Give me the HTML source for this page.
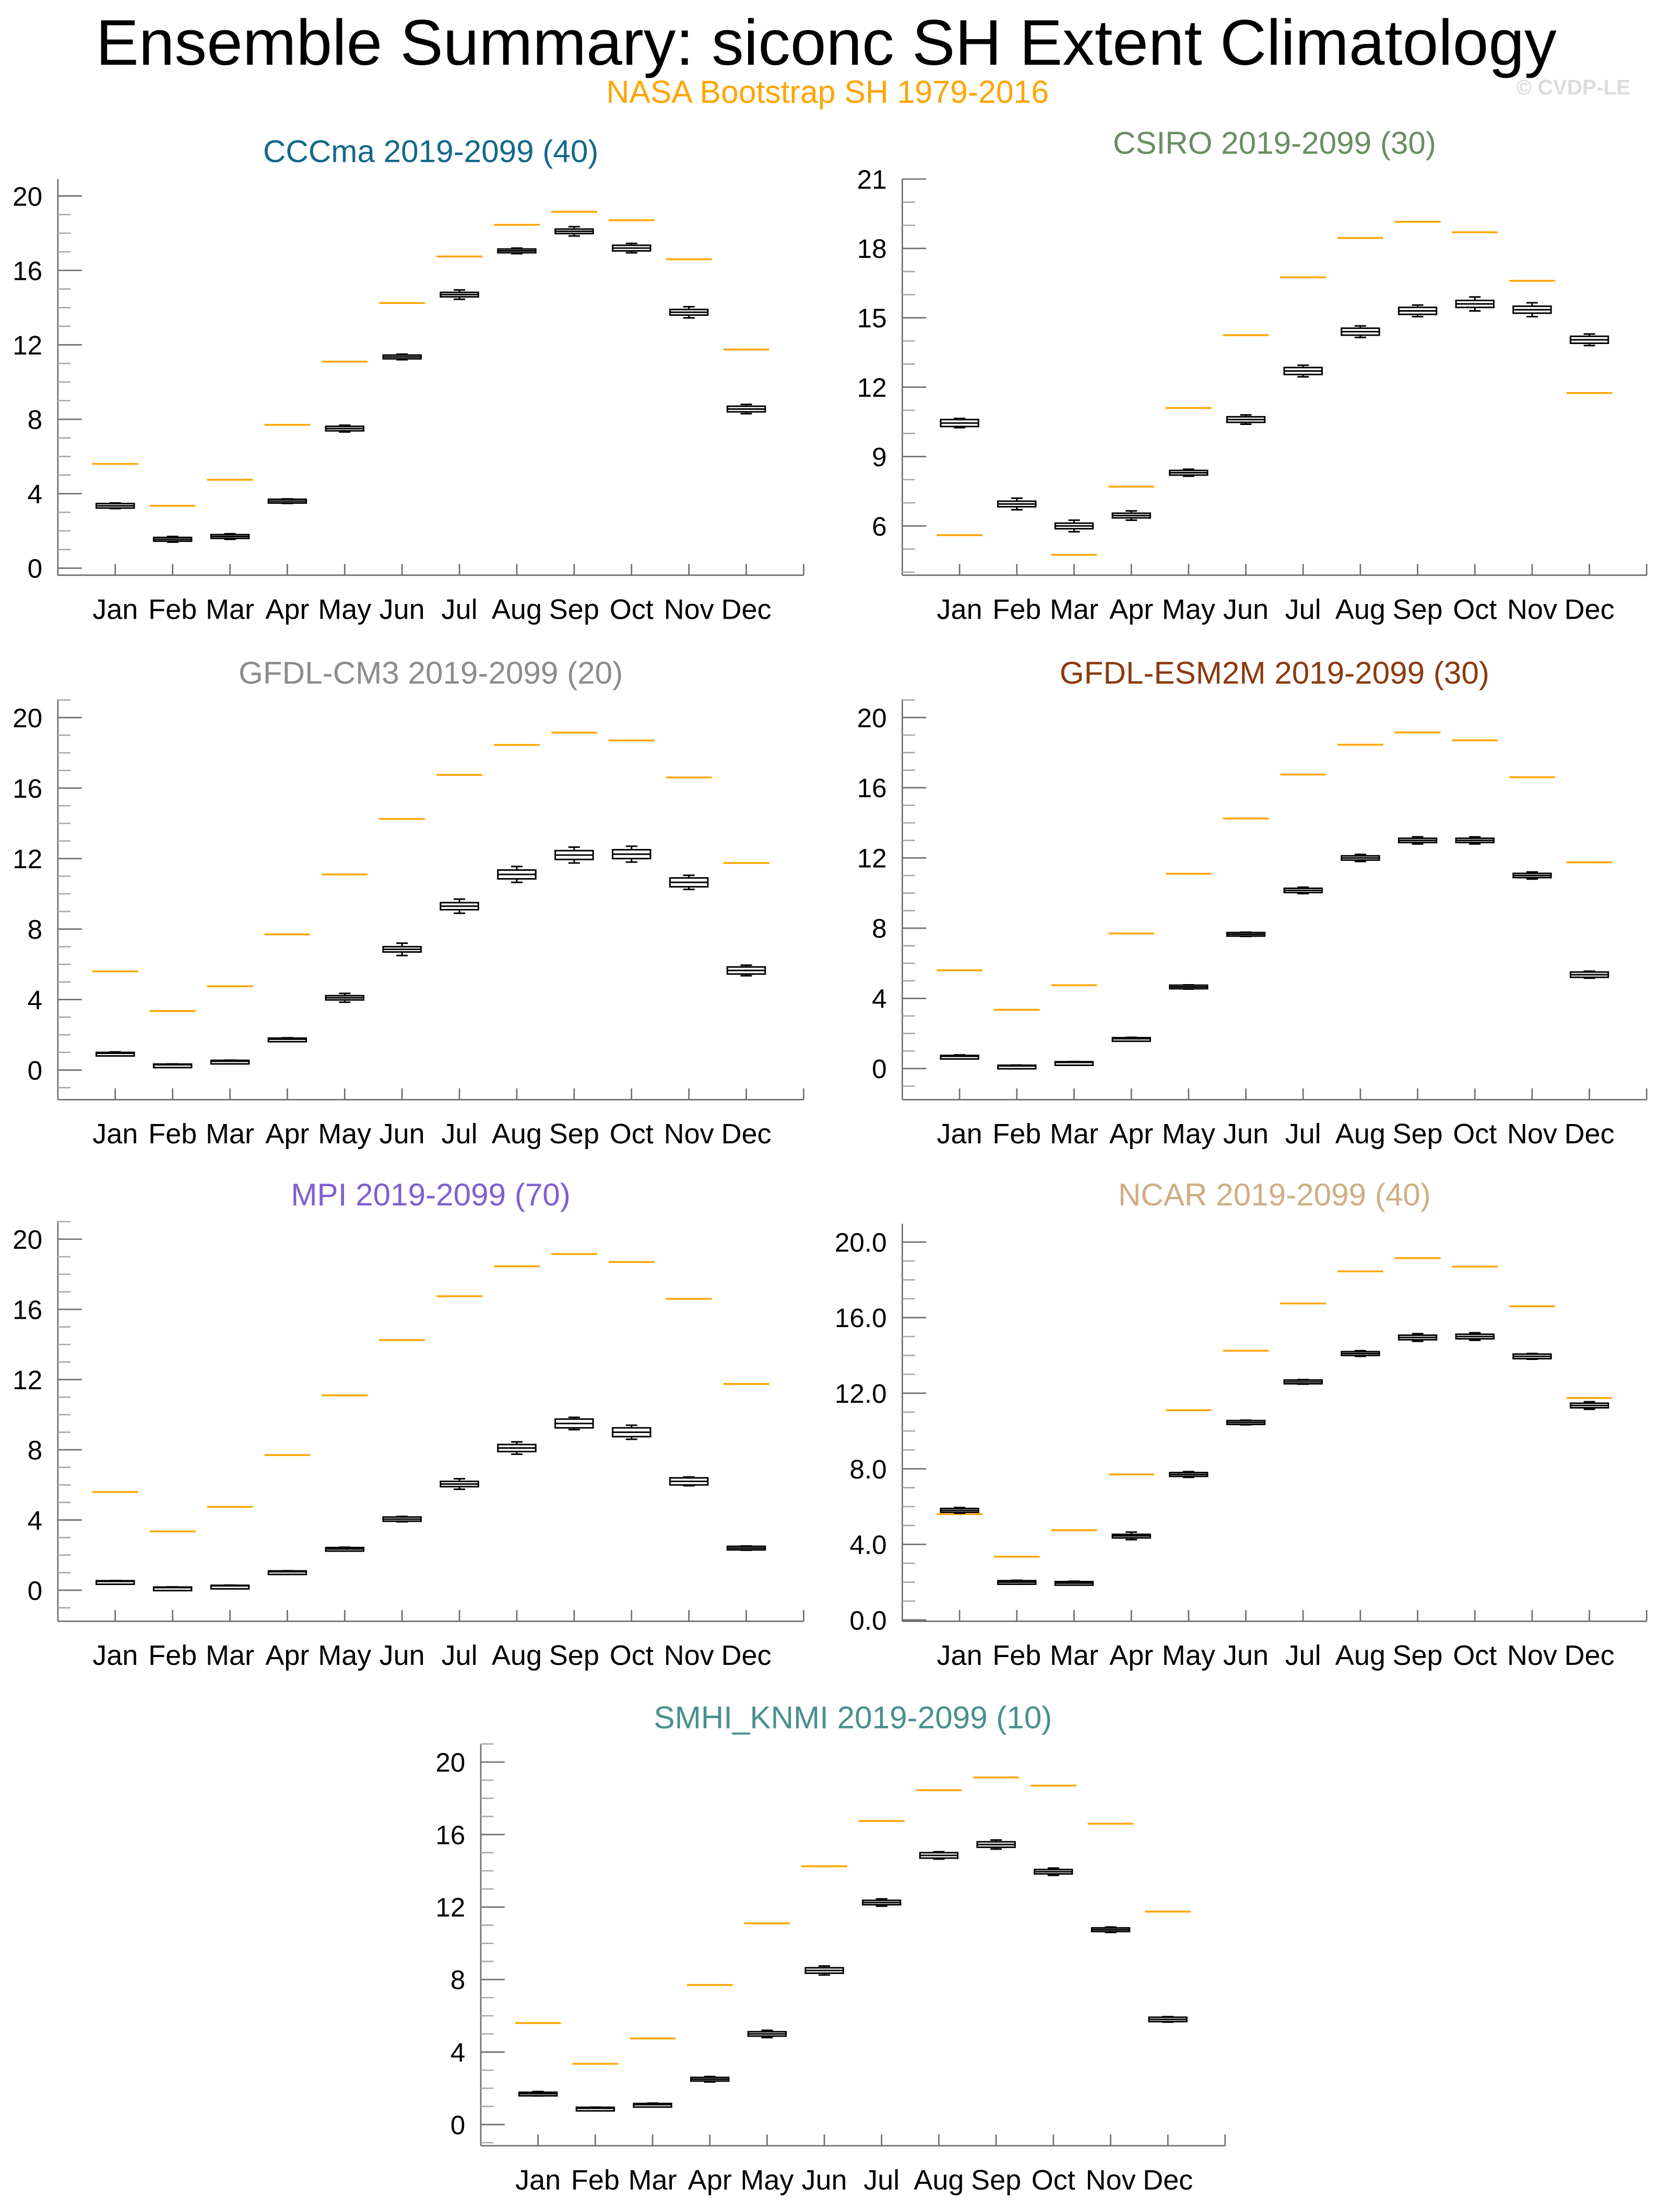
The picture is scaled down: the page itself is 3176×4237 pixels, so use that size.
<!DOCTYPE html>
<html><head><meta charset="utf-8"><style>
html,body{margin:0;padding:0;background:#fff;}
svg{display:block;}
</style></head><body>
<svg id="fig" width="3176" height="4237" viewBox="0 0 1176 1569" xmlns="http://www.w3.org/2000/svg" font-family="Liberation Sans, sans-serif">
<rect x="0" y="0" width="1176" height="1569" fill="#fff"/>
<text x="586" y="46" font-size="45.7" text-anchor="middle" fill="#000">Ensemble Summary: siconc SH Extent Climatology</text>
<text x="587" y="73" font-size="22.5" text-anchor="middle" fill="#ffa500">NASA Bootstrap SH 1979-2016</text>
<text x="1116" y="67" font-size="15" font-weight="bold" text-anchor="middle" fill="#dcdcdc">© CVDP-LE</text>
<g id="panels"></g>
</svg>
<script>
const months = ["Jan","Feb","Mar","Apr","May","Jun","Jul","Aug","Sep","Oct","Nov","Dec"];
const obsValues = [5.6,3.35,4.75,7.7,11.1,14.25,16.75,18.45,19.15,18.7,16.6,11.75];

const cccmaMed = [3.35,1.55,1.7,3.6,7.5,11.35,14.7,17.05,18.1,17.2,13.75,8.55];
const cccmaBox = [0.12,0.1,0.1,0.1,0.12,0.1,0.12,0.1,0.12,0.15,0.15,0.15];
const cccmaWhisk = [0.15,0.15,0.15,0.12,0.18,0.15,0.25,0.15,0.25,0.25,0.3,0.25];

const csiroMed = [10.45,6.95,6.0,6.45,8.3,10.6,12.7,14.4,15.3,15.6,15.35,14.05];
const csiroBox = [0.15,0.12,0.12,0.1,0.1,0.12,0.15,0.15,0.15,0.15,0.15,0.15];
const csiroWhisk = [0.2,0.25,0.25,0.2,0.15,0.2,0.25,0.25,0.25,0.3,0.3,0.25];

const cm3Med = [0.95,0.3,0.5,1.75,4.1,6.85,9.3,11.1,12.2,12.25,10.65,5.65];
const cm3Box = [0.05,0.04,0.05,0.06,0.12,0.15,0.2,0.25,0.25,0.25,0.25,0.2];
const cm3Whisk = [0.08,0.05,0.06,0.08,0.25,0.35,0.4,0.45,0.45,0.45,0.4,0.3];

const esm2mMed = [0.7,0.15,0.35,1.7,4.65,7.65,10.15,12.0,13.0,13.0,11.0,5.35];
const esm2mBox = [0.05,0.04,0.04,0.06,0.1,0.1,0.12,0.12,0.12,0.12,0.12,0.15];
const esm2mWhisk = [0.08,0.05,0.05,0.08,0.12,0.12,0.18,0.2,0.2,0.2,0.2,0.2];

const mpiMed = [0.5,0.15,0.25,1.05,2.35,4.05,6.05,8.1,9.5,9.0,6.2,2.4];
const mpiBox = [0.04,0.03,0.03,0.05,0.08,0.12,0.15,0.2,0.25,0.25,0.2,0.1];
const mpiWhisk = [0.05,0.04,0.04,0.06,0.1,0.15,0.3,0.35,0.35,0.4,0.25,0.12];

const ncarMed = [5.8,2.0,1.95,4.45,7.7,10.45,12.6,14.1,14.95,15.0,13.95,11.35];
const ncarBox = [0.1,0.08,0.08,0.08,0.1,0.1,0.1,0.1,0.12,0.12,0.12,0.12];
const ncarWhisk = [0.15,0.1,0.1,0.2,0.15,0.12,0.12,0.15,0.2,0.2,0.15,0.2];

const smhiMed = [1.7,0.9,1.1,2.5,5.0,8.5,12.25,14.85,15.45,13.95,10.75,5.8];
const smhiBox = [0.08,0.05,0.06,0.1,0.12,0.15,0.12,0.15,0.15,0.12,0.1,0.12];
const smhiWhisk = [0.12,0.06,0.08,0.15,0.2,0.25,0.2,0.2,0.25,0.2,0.15,0.15];

const yTicks1 = [0,4,8,12,16,20];
const yTicks2 = [6,9,12,15,18,21];
const yTickLabels1 = ["0","4","8","12","16","20"];
const yTickLabels2 = ["6","9","12","15","18","21"];
const yTickLabelsNcar = ["0.0","4.0","8.0","12.0","16.0","20.0"];

const panels = [
 {name:"cccma", title:"CCCma 2019-2099 (40)", color:"#13688a", x0:41, x1:570, yTop:127, yBot:408, vTop:20.91, vBot:-0.38, titleY:115, med:cccmaMed, box:cccmaBox, wh:cccmaWhisk, ticks:yTicks1, labels:yTickLabels1, minorStep:1},
 {name:"csiro", title:"CSIRO 2019-2099 (30)", color:"#6a8e62", x0:640, x1:1168, yTop:127, yBot:408, vTop:21, vBot:3.87, titleY:109, med:csiroMed, box:csiroBox, wh:csiroWhisk, ticks:yTicks2, labels:yTickLabels2, minorStep:1},
 {name:"gfdl-cm3", title:"GFDL-CM3 2019-2099 (20)", color:"#8c8c8c", x0:41, x1:570, yTop:496, yBot:780, vTop:21.04, vBot:-1.68, titleY:485, med:cm3Med, box:cm3Box, wh:cm3Whisk, ticks:yTicks1, labels:yTickLabels1, minorStep:1},
 {name:"gfdl-esm2m", title:"GFDL-ESM2M 2019-2099 (30)", color:"#8b3a10", x0:640, x1:1168, yTop:496, yBot:780, vTop:21.04, vBot:-1.77, titleY:485, med:esm2mMed, box:esm2mBox, wh:esm2mWhisk, ticks:yTicks1, labels:yTickLabels1, minorStep:1},
 {name:"mpi", title:"MPI 2019-2099 (70)", color:"#7f5fd3", x0:41, x1:570, yTop:866, yBot:1150, vTop:21.04, vBot:-1.77, titleY:855, med:mpiMed, box:mpiBox, wh:mpiWhisk, ticks:yTicks1, labels:yTickLabels1, minorStep:1},
 {name:"ncar", title:"NCAR 2019-2099 (40)", color:"#cfae85", x0:640, x1:1168, yTop:868, yBot:1150, vTop:20.97, vBot:-0.07, titleY:855, med:ncarMed, box:ncarBox, wh:ncarWhisk, ticks:yTicks1, labels:yTickLabelsNcar, minorStep:1},
 {name:"smhi-knmi", title:"SMHI_KNMI 2019-2099 (10)", color:"#4a8f8f", x0:341, x1:869, yTop:1237, yBot:1522, vTop:21.0, vBot:-1.17, titleY:1226, med:smhiMed, box:smhiBox, wh:smhiWhisk, ticks:yTicks1, labels:yTickLabels1, minorStep:1}
];

const NS = "http://www.w3.org/2000/svg";
const root = document.getElementById("panels");
function mk(tag, attrs, parent){
  const e = document.createElementNS(NS, tag);
  for (const k in attrs) e.setAttribute(k, attrs[k]);
  parent.appendChild(e);
  return e;
}
panels.forEach(p => {
  const g = mk("g", {}, root);
  
  
  const xs = i => p.x0 + (p.x1 - p.x0) * (i + 1) / 13;
  const ys = v => p.yBot + (v - p.vBot) / (p.vTop - p.vBot) * (p.yTop - p.yBot);
  const dx = (p.x1 - p.x0) / 13;
  const t = mk("text", {x:(p.x0+p.x1)/2, y:p.titleY, "font-size":22.3, "text-anchor":"middle", fill:p.color}, g);
  t.textContent = p.title;
  
  
  const ax = mk("g", {stroke:"#6e6e6e", "stroke-width":1}, g);
  
  
  mk("line", {x1:p.x0, y1:p.yTop, x2:p.x0, y2:p.yBot}, ax);
  mk("line", {x1:p.x0, y1:p.yBot, x2:p.x1, y2:p.yBot}, ax);
  mk("line", {x1:p.x1, y1:p.yBot, x2:p.x1, y2:p.yBot-8}, ax);
  for (let v = Math.ceil(p.vBot); v <= p.vTop + 1e-6; v += p.minorStep) {
    const isMajor = p.ticks.indexOf(v) >= 0;
    mk("line", {x1:p.x0, y1:ys(v), x2:p.x0 + (isMajor ? 17 : 9), y2:ys(v), stroke: isMajor ? "#6e6e6e" : "#aaa"}, ax);
  }
  p.ticks.forEach((v, i) => {
    const tl = mk("text", {x:p.x0 - 11, y:ys(v) + 6.8, "font-size":19, "text-anchor":"end", fill:"#000", stroke:"none"}, g);
    tl.textContent = p.labels[i];
    
    
  });
  months.forEach((m, i) => {
    mk("line", {x1:xs(i), y1:p.yBot, x2:xs(i), y2:p.yBot-8}, ax);
    const ml = mk("text", {x:xs(i), y:p.yBot + 31, "font-size":20, "text-anchor":"middle", fill:"#000"}, g);
    ml.textContent = m;
    
    
  });
  obsValues.forEach((v, i) => {
    if (v < p.vBot || v > p.vTop) return;
    const l = mk("line", {x1:xs(i)-dx*0.4, x2:xs(i)+dx*0.4, y1:ys(v), y2:ys(v), stroke:"#ffa500", "stroke-width":1.3}, g);
    
    
  });
  p.med.forEach((v, i) => {
    const bg = mk("g", {stroke:"#000", "stroke-width":1.1, fill:"#fff"}, g);
    
    
    const cx = xs(i), hw = dx*0.33, cw = dx*0.1;
    const yWt = ys(v + p.wh[i]), yWb = ys(v - p.wh[i]);
    const yBt = ys(v + p.box[i]), yBb = ys(v - p.box[i]);
    mk("line", {x1:cx, x2:cx, y1:yWt, y2:yWb}, bg);
    mk("line", {x1:cx-cw, x2:cx+cw, y1:yWt, y2:yWt}, bg);
    mk("line", {x1:cx-cw, x2:cx+cw, y1:yWb, y2:yWb}, bg);
    mk("rect", {x:cx-hw, y:yBt, width:2*hw, height:Math.max(yBb-yBt, 2.5)}, bg);
    mk("line", {x1:cx-hw, x2:cx+hw, y1:ys(v), y2:ys(v)}, bg);
  });
});
</script>
</body></html>
